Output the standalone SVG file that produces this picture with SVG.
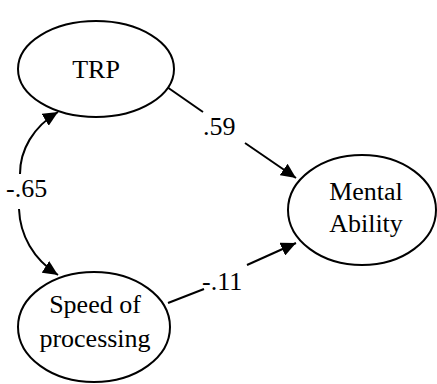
<svg xmlns="http://www.w3.org/2000/svg" width="437" height="384" viewBox="0 0 437 384">
<style>
.node ellipse{fill:#fff;stroke:#000;stroke-width:2}
text{font-family:'Liberation Serif',serif;font-size:26px;fill:#000}
.c{text-anchor:middle}
.edge{fill:none;stroke:#000;stroke-width:2}
</style>
<defs>
<marker id="ah" markerUnits="userSpaceOnUse" markerWidth="16" markerHeight="14" refX="15" refY="7" orient="auto">
<path d="M0,0 L15,7 L0,14 z" fill="#000"/>
</marker>
</defs>
<rect width="437" height="384" fill="#fff"/>
<g id="connectors">
<path class="edge" d="M167,87 L203,112"/>
<path class="edge" d="M245,143 L296,178" marker-end="url(#ah)"/>
<path class="edge" d="M168,303 L204,289"/>
<path class="edge" d="M247,265 L296,243" marker-end="url(#ah)"/>
<path class="edge" d="M20,174 C20,150 33,127 58,112" marker-end="url(#ah)"/>
<path class="edge" d="M19,209 C20,235 33,259 58,275" marker-end="url(#ah)"/>
<text x="203" y="135">.59</text>
<text x="202" y="290">-.11</text>
<text x="6" y="197">-.65</text>
</g>
<g id="trp" class="node">
<ellipse cx="96" cy="69" rx="78" ry="48"/>
<text class="c" x="96" y="78">TRP</text>
</g>
<g id="speed" class="node">
<ellipse cx="94" cy="327" rx="76" ry="55"/>
<text class="c" x="95" y="313">Speed of</text>
<text class="c" x="95" y="347">processing</text>
</g>
<g id="mental" class="node">
<ellipse cx="362" cy="210" rx="74" ry="55"/>
<text class="c" x="366" y="200">Mental</text>
<text class="c" x="366" y="232">Ability</text>
</g>
</svg>
